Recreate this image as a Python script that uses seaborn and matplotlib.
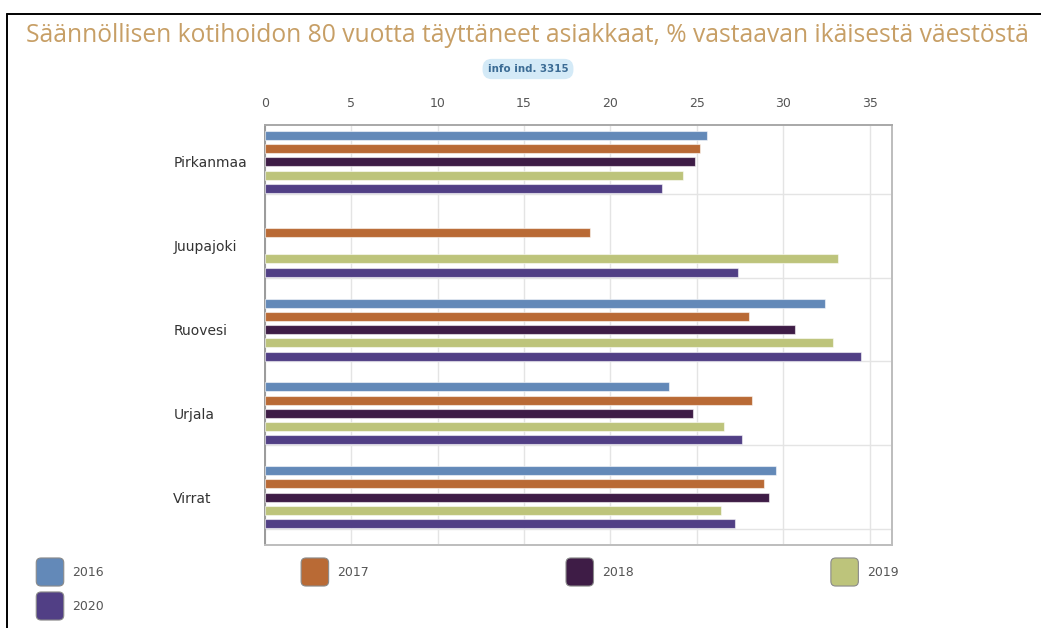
import numpy as np
import pandas as pd
import matplotlib
matplotlib.use("Agg")
import matplotlib.pyplot as plt
from matplotlib.lines import Line2D
from matplotlib.patches import FancyBboxPatch, Rectangle
from matplotlib.legend_handler import HandlerPatch
import seaborn as sns

# --- data -------------------------------------------------------------
regions = ["Pirkanmaa", "Juupajoki", "Ruovesi", "Urjala", "Virrat"]
years = ["2016", "2017", "2018", "2019", "2020"]
v2016 = [25.6, np.nan, 32.4, 23.4, 29.6]
v2017 = [25.2, 18.8, 28.0, 28.2, 28.9]
v2018 = [24.9, np.nan, 30.7, 24.8, 29.2]
v2019 = [24.2, 33.2, 32.9, 26.6, 26.4]
v2020 = [23.0, 27.4, 34.5, 27.6, 27.2]
xticks = [0, 5, 10, 15, 20, 25, 30, 35]

title = "Säännöllisen kotihoidon 80 vuotta täyttäneet asiakkaat, % vastaavan ikäisestä väestöstä"
badge = "info ind. 3315"

colors = ["#6389b8", "#b96a35", "#3e1c46", "#bdc47b", "#513f85"]

values = {"2016": v2016, "2017": v2017, "2018": v2018, "2019": v2019, "2020": v2020}
df = pd.DataFrame(
    [(r, y, values[y][i]) for y in years for i, r in enumerate(regions)],
    columns=["alue", "vuosi", "arvo"],
)

# --- figure -----------------------------------------------------------
sns.set_style("white")
plt.rcParams["font.family"] = ["DejaVu Sans"]

W, H = 1041, 628
fig = plt.figure(figsize=(W / 100, H / 100), dpi=100)
fig.patch.set_facecolor("white")

def fx(px):
    return px / W

def fy(py):
    return 1 - py / H

left, right, top, bottom = 265, 892, 125, 545
ax = fig.add_axes([fx(left), fy(bottom), fx(right - left), (bottom - top) / H])

sns.barplot(
    data=df, x="arvo", y="alue", hue="vuosi", order=regions, hue_order=years,
    palette=colors, orient="h", width=0.79, gap=0.32, errorbar=None,
    edgecolor=(1, 1, 1, 0.55), linewidth=0.8, saturation=1, ax=ax, zorder=3,
)

ax.set_xlim(0, 36.3)
ax.set_ylim(4.57, -0.44)
ax.set_xticks(xticks)
ax.set_xticklabels([str(t) for t in xticks])
ax.xaxis.tick_top()
ax.tick_params(axis="x", length=0, pad=11, labelsize=9, labelcolor="#555555")
ax.set_yticks(range(len(regions)))
ax.set_yticklabels(regions)
ax.tick_params(axis="y", length=0, pad=66, labelsize=10, labelcolor="#333333")
for lbl in ax.get_yticklabels():
    lbl.set_horizontalalignment("left")
ax.set_xlabel("")
ax.set_ylabel("")

ax.grid(axis="x", color="#e4e4e4", linewidth=1, zorder=0)
for i in range(len(regions)):
    ax.axhline(i + 0.38, color="#e4e4e4", linewidth=1, zorder=0)

for name, sp in ax.spines.items():
    sp.set_visible(True)
    sp.set_color("#bdbdbd")
    sp.set_linewidth(1.4)
ax.spines["left"].set_color("#9a9a9a")
ax.spines["top"].set_color("#a8a8a8")

# legend with rounded, nearly square swatches, filled row by row
def rounded_patch(legend, orig_handle, xdescent, ydescent, width, height, fontsize):
    h = height * 1.29
    y0 = -ydescent - (h - height) / 2
    return FancyBboxPatch((-xdescent, y0), width, h,
                          boxstyle="round,pad=0,rounding_size=3.5")

old = ax.get_legend()
handles = old.legend_handles
labels = [t.get_text() for t in old.get_texts()]
old.remove()
order = [0, 4, 1, 2, 3]
leg = ax.legend(
    [handles[i] for i in order], [labels[i] for i in order],
    loc="center left", bbox_to_anchor=(fx(25), fy(589)),
    bbox_transform=fig.transFigure, ncol=4, frameon=False,
    fontsize=9, handlelength=2.2, handleheight=2.3, handletextpad=0.7,
    columnspacing=15.75, labelspacing=0.98,
    handler_map={Rectangle: HandlerPatch(patch_func=rounded_patch)},
)
for p in leg.get_patches():
    p.set_edgecolor("#8a8a8a")
    p.set_linewidth(0.8)
for t in leg.get_texts():
    t.set_color("#555555")

# title and badge
fig.text(fx(527), fy(35), title, ha="center", va="center",
         fontsize=17.7, color="#c79f66", family=["Open Sans", "DejaVu Sans"])
fig.text(fx(528), fy(69), badge, ha="center", va="center",
         fontsize=7.4, weight="bold", color="#3c6c95",
         bbox=dict(boxstyle="round,pad=0.5,rounding_size=0.9",
                   fc="#d4eaf7", ec="none"))

# frame lines along the top and left
fig.add_artist(Line2D([fx(7), 1], [fy(14), fy(14)], transform=fig.transFigure,
                      color="black", linewidth=1.4))
fig.add_artist(Line2D([fx(7), fx(7)], [fy(14), 0], transform=fig.transFigure,
                      color="black", linewidth=1.4))

fig.savefig("out.png", dpi=100)
